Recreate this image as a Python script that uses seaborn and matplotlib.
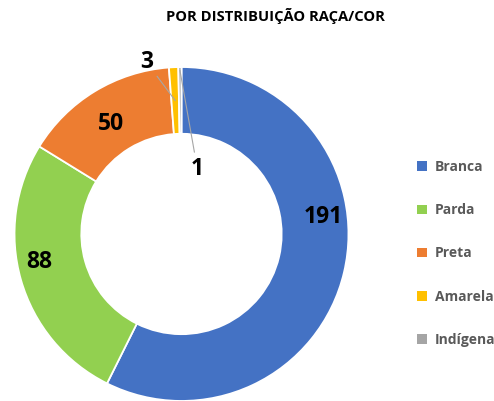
import numpy as np
import seaborn as sns
import matplotlib.pyplot as plt
from matplotlib.patches import Patch

# data
categories = ["Branca", "Parda", "Preta", "Amarela", "Indígena"]
values = [191, 88, 50, 3, 1]
colors = ["#4472C4", "#92D050", "#ED7D31", "#FFC000", "#A5A5A5"]
title = "POR DISTRIBUIÇÃO RAÇA/COR"

# label positions (axes data units, pie radius = 1)
label_pos = [(0.85, 0.10), (-0.85, -0.17), (-0.42, 0.66), (-0.21, 1.03), (0.095, 0.39)]

sns.set_theme(style="white")
plt.rcParams["font.family"] = ["Open Sans", "DejaVu Sans"]

fig = plt.figure(figsize=(4.94, 4.01), dpi=100)
ax = fig.add_axes([0.0294, 0.0, 0.676, 0.833])

wedges, _ = ax.pie(values, colors=colors, startangle=90, counterclock=False,
                   radius=1.0, wedgeprops=dict(width=0.4, edgecolor="white", linewidth=1.3))
ax.set_xlim(-1.0, 1.0)
ax.set_ylim(-1.0, 1.0)
ax.set_aspect("equal")
ax.axis("off")

# wedge mid angles for leader lines
total = sum(values)
ends = 90 - 360 * np.cumsum(values) / total
starts = ends + 360 * np.array(values) / total
mids = np.deg2rad((starts + ends) / 2)

for i, (v, (tx, ty)) in enumerate(zip(values, label_pos)):
    if v < 10:
        r = 0.8 if i == 3 else 0.98
        ax.annotate(str(v), xy=(r * np.cos(mids[i]), r * np.sin(mids[i])),
                    xytext=(tx, ty), ha="center", va="center",
                    fontsize=16.5, fontweight="bold", color="black",
                    arrowprops=dict(arrowstyle="-", color="#a6a6a6", lw=0.8,
                                    shrinkA=1, shrinkB=0))
    else:
        ax.text(tx, ty, str(v), ha="center", va="center",
                fontsize=16.5, fontweight="bold", color="black")

fig.text(0.558, 0.96, title, ha="center", va="center",
         fontsize=10.6, fontweight="bold", color="black")

handles = [Patch(facecolor=c, edgecolor="none") for c in colors]
fig.legend(handles, categories, loc="upper left", bbox_to_anchor=(0.83, 0.618),
           frameon=False, handlelength=0.7, handleheight=0.7, handletextpad=0.6,
           labelspacing=2.1, borderpad=0,
           prop=dict(family=["Open Sans", "DejaVu Sans"], weight="bold", size=10),
           labelcolor="#595959")

fig.savefig("out.png", dpi=100)
